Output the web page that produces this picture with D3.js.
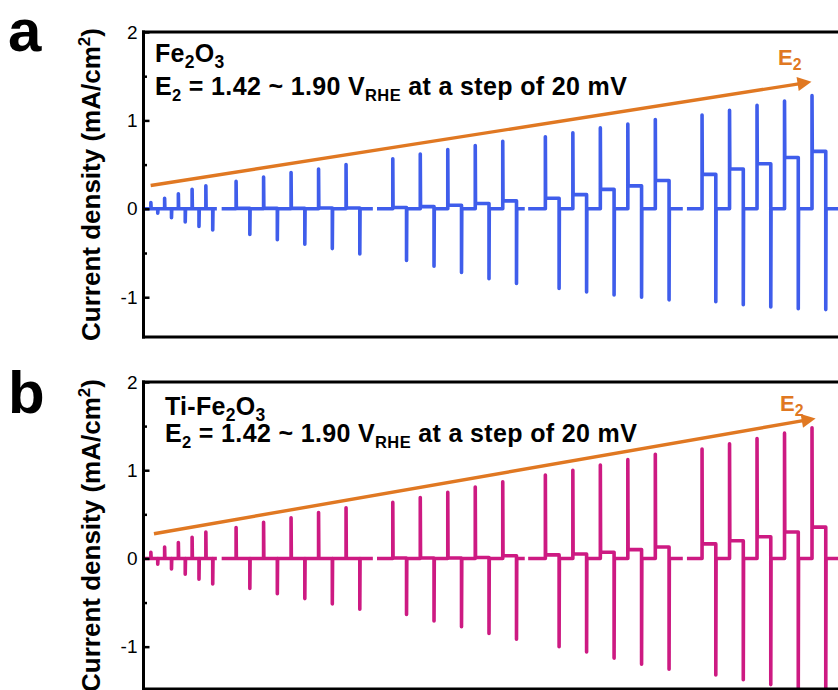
<!DOCTYPE html>
<html>
<head>
<meta charset="utf-8">
<script src="https://cdn.jsdelivr.net/npm/d3@7"></script>
<style>
  html, body { margin: 0; padding: 0; background: #fff; }
  svg { display: block; }
  text { font-family: "Liberation Sans", Arial, Helvetica, sans-serif; }
</style>
</head>
<body>
<svg id="chart" width="838" height="690"></svg>
<script>
// Chopped-potential transients: E1 (rest) -> E2 pulses, E2 = 1.42 ... 1.90 V_RHE
// Pulse switch-on / switch-off times (s)
const onTimes  = [1, 3, 5, 7, 9,
                  13.4, 17.4, 21.4, 25.4, 29.4,
                  36.2, 40.2, 44.2, 48.2, 52.2,
                  58.4, 62.4, 66.4, 70.4, 74.4,
                  81.2, 85.2, 89.2, 93.2, 97.2];
const offTimes = [2, 4, 6, 8, 10,
                  15.4, 19.4, 23.4, 27.4, 31.4,
                  38.2, 42.2, 46.2, 50.2, 54.2,
                  60.4, 64.4, 68.4, 72.4, 76.4,
                  83.2, 87.2, 91.2, 95.2, 99.2];
// Separate recording runs (s)
const runStart = [0, 11.3, 33.9, 55.9, 79.0];
const runEnd   = [10.6, 33.3, 55.4, 78.4, 102];
const runPulses = [[0, 5], [5, 10], [10, 15], [15, 20], [20, 25]];

// Fe2O3 (mA/cm2): anodic spike, steady-state plateau, cathodic spike
const peakA    = [0.07, 0.12, 0.17, 0.22, 0.26, 0.31, 0.36, 0.41, 0.45, 0.50,
                  0.565, 0.62, 0.67, 0.715, 0.765, 0.815, 0.86, 0.915, 0.96, 1.01,
                  1.06, 1.115, 1.17, 1.22, 1.28];
const plateauA = [0, 0, 0, 0, 0, 0.005, 0.005, 0.005, 0.01, 0.01,
                  0.015, 0.025, 0.04, 0.06, 0.09, 0.12, 0.16, 0.22, 0.26, 0.32,
                  0.39, 0.45, 0.51, 0.58, 0.65];
const troughA  = [-0.05, -0.10, -0.15, -0.20, -0.24, -0.29, -0.35, -0.40, -0.45, -0.51,
                  -0.585, -0.65, -0.72, -0.79, -0.845, -0.90, -0.94, -0.975, -1.0, -1.03,
                  -1.05, -1.085, -1.11, -1.13, -1.14];

// Ti-Fe2O3 (mA/cm2)
const peakB    = [0.07, 0.13, 0.18, 0.24, 0.30, 0.35, 0.41, 0.46, 0.52, 0.575,
                  0.635, 0.69, 0.75, 0.81, 0.87, 0.945, 1.0, 1.06, 1.12, 1.18,
                  1.24, 1.30, 1.36, 1.42, 1.48];
const plateauB = [0, 0, 0, 0, 0, 0, 0, 0, 0, 0,
                  0.005, 0.005, 0.005, 0.01, 0.03, 0.04, 0.05, 0.07, 0.10, 0.13,
                  0.165, 0.20, 0.245, 0.30, 0.355];
const troughB  = [-0.065, -0.12, -0.18, -0.235, -0.29, -0.34, -0.40, -0.455, -0.515, -0.575,
                  -0.635, -0.71, -0.775, -0.85, -0.915, -1.0, -1.06, -1.13, -1.20, -1.255,
                  -1.32, -1.375, -1.43, -1.49, -1.55];

const majorTicks = [-1, 0, 1, 2];
const minorTicks = [-0.5, 0.5, 1.5];
const timeDomain = [0, 102];

const panels = [
  { letter: "a", sample: [["Fe", false], ["2", true], ["O", false], ["3", true]],
    peak: peakA, plateau: plateauA, trough: troughA, color: "#3f5deb",
    yDomain: [-1.45, 2], yRange: [337, 32], textX: 155, line1: 62, line2: 95,
    arrow: [[0.97, 0.264], [98.1, 1.448]], e2: [778, 65] },
  { letter: "b", sample: [["Ti-Fe", false], ["2", true], ["O", false], ["3", true]],
    peak: peakB, plateau: plateauB, trough: troughB, color: "#cd1a82",
    yDomain: [-1.48, 2], yRange: [689, 382], textX: 165, line1: 415, line2: 442,
    arrow: [[1.45, 0.28], [98.7, 1.60]], e2: [780, 411] }
];

const orange = "#e07822";
const svg = d3.select("#chart");
const x = d3.scaleLinear().domain(timeDomain).range([144, 845]);

const defs = svg.append("defs");
defs.append("marker")
  .attr("id", "arrowhead")
  .attr("viewBox", "0 0 10 10")
  .attr("refX", 2).attr("refY", 5)
  .attr("markerUnits", "userSpaceOnUse")
  .attr("markerWidth", 22).attr("markerHeight", 14)
  .attr("orient", "auto")
  .append("path")
  .attr("d", "M0,0 L10,5 L0,10 Z")
  .attr("fill", orange);

// text with subscript pieces
function richText(sel, pieces, size, subScale, subDrop) {
  let prevSub = false;
  pieces.forEach(([t, sub]) => {
    const ts = sel.append("tspan").text(t);
    if (sub) {
      ts.attr("font-size", size * subScale).attr("dy", size * subDrop);
    } else if (prevSub) {
      ts.attr("dy", -size * subDrop);
    }
    prevSub = sub;
  });
}

panels.forEach((p, pi) => {
  const y = d3.scaleLinear().domain(p.yDomain).range(p.yRange);
  const g = svg.append("g");
  const top = p.yRange[1], bottom = p.yRange[0];

  defs.append("clipPath").attr("id", "clip" + pi)
    .append("rect").attr("x", 144).attr("y", top).attr("width", 710).attr("height", bottom - top);

  // transient traces, one path per recording run
  const line = d3.line().x(d => x(d[0])).y(d => y(d[1]));
  const eps = 0.04;
  runStart.forEach((rs, ri) => {
    const pts = [[rs, 0]];
    for (let i = runPulses[ri][0]; i < runPulses[ri][1]; i++) {
      pts.push([onTimes[i], 0], [onTimes[i], p.peak[i]], [onTimes[i] + eps, p.plateau[i]],
               [offTimes[i], p.plateau[i]], [offTimes[i], p.trough[i]], [offTimes[i] + eps, 0]);
    }
    pts.push([runEnd[ri], 0]);
    g.append("path")
      .attr("d", line(pts))
      .attr("fill", "none")
      .attr("stroke", p.color)
      .attr("stroke-width", 3.6)
      .attr("stroke-linejoin", "round")
      .attr("stroke-linecap", "butt")
      .attr("clip-path", `url(#clip${pi})`);
  });

  // E2 arrow (line stops short so the head tip lands on the end point)
  const ax1 = x(p.arrow[0][0]), ay1 = y(p.arrow[0][1]);
  const ax2 = x(p.arrow[1][0]), ay2 = y(p.arrow[1][1]);
  const L = Math.hypot(ax2 - ax1, ay2 - ay1);
  const k = (L - 18) / L;
  g.append("line")
    .attr("x1", ax1).attr("y1", ay1)
    .attr("x2", ax1 + (ax2 - ax1) * k).attr("y2", ay1 + (ay2 - ay1) * k)
    .attr("stroke", orange).attr("stroke-width", 3.4)
    .attr("marker-end", "url(#arrowhead)");
  const e2 = g.append("text")
    .attr("x", p.e2[0]).attr("y", p.e2[1])
    .attr("font-size", 22).attr("font-weight", "bold").attr("fill", orange);
  richText(e2, [["E", false], ["2", true]], 22, 0.72, 0.22);

  // frame
  g.append("line").attr("x1", 143.5).attr("x2", 143.5).attr("y1", top - 1.5).attr("y2", bottom + 1.5)
    .attr("stroke", "#000").attr("stroke-width", 3);
  g.append("line").attr("x1", 142).attr("x2", 860).attr("y1", top).attr("y2", top)
    .attr("stroke", "#000").attr("stroke-width", 3);
  g.append("line").attr("x1", 142).attr("x2", 860).attr("y1", bottom).attr("y2", bottom)
    .attr("stroke", "#000").attr("stroke-width", 3);

  // y axis: inward ticks
  const axis = g.append("g").attr("transform", "translate(143.5,0)")
    .call(d3.axisLeft(y).tickValues(majorTicks).tickSize(-6).tickPadding(6)
      .tickFormat(d => (d < 0 ? "-" : "") + Math.abs(d)));
  axis.select(".domain").remove();
  axis.selectAll(".tick line").attr("stroke", "#000").attr("stroke-width", 2.5);
  axis.selectAll(".tick text")
    .attr("font-size", 19).attr("fill", "#000")
    .attr("font-family", "'Liberation Sans', Arial, sans-serif");
  const minor = g.append("g").attr("transform", "translate(143.5,0)")
    .call(d3.axisLeft(y).tickValues(minorTicks).tickSize(-3.5).tickFormat(""));
  minor.select(".domain").remove();
  minor.selectAll(".tick line").attr("stroke", "#000").attr("stroke-width", 2.5);

  // y title
  const title = g.append("text")
    .attr("transform", `translate(100,${(top + bottom) / 2}) rotate(-90)`)
    .attr("text-anchor", "middle")
    .attr("font-size", 26).attr("font-weight", "bold").attr("fill", "#000");
  title.append("tspan").text("Current density (mA/cm");
  title.append("tspan").text("2").attr("font-size", 17).attr("dy", -10);
  title.append("tspan").text(")").attr("dy", 10);

  // panel letter
  g.append("text").attr("x", 8).attr("y", p.letter === "a" ? 51 : 413)
    .attr("font-size", 60).attr("font-weight", "bold").text(p.letter);

  // sample and potential range
  const t1 = g.append("text").attr("x", p.textX).attr("y", p.line1)
    .attr("font-size", 25).attr("font-weight", "bold").attr("letter-spacing", 0.3);
  richText(t1, p.sample, 25, 0.7, 0.22);
  const t2 = g.append("text").attr("x", p.textX).attr("y", p.line2)
    .attr("font-size", 25).attr("font-weight", "bold").attr("letter-spacing", 0.35);
  richText(t2, [["E", false], ["2", true], [" = 1.42 ~ 1.90 V", false], ["RHE", true],
                [" at a step of 20 mV", false]], 25, 0.66, 0.22);
});
</script>
</body>
</html>
